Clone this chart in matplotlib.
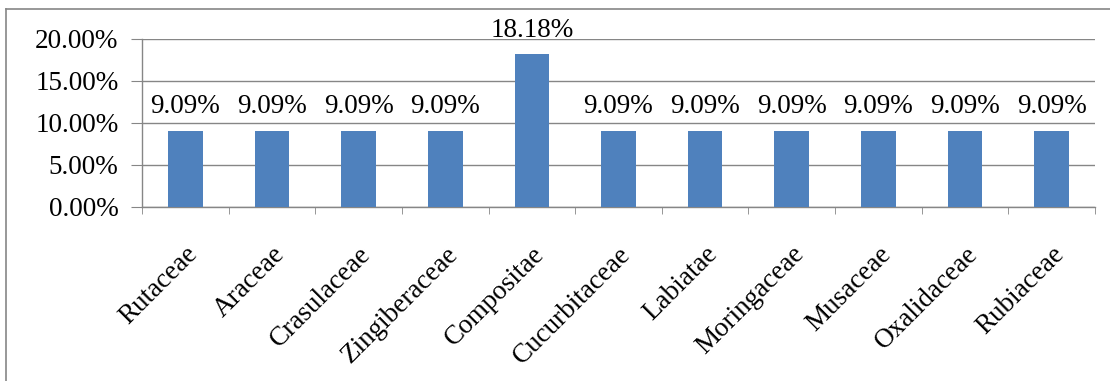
import matplotlib
matplotlib.use("Agg")
import matplotlib.pyplot as plt
from matplotlib.ticker import FuncFormatter, FixedLocator
from matplotlib.lines import Line2D

categories = ["Rutaceae", "Araceae", "Crasulaceae", "Zingiberaceae", "Compositae",
              "Cucurbitaceae", "Labiatae", "Moringaceae", "Musaceae", "Oxalidaceae", "Rubiaceae"]
values = [9.09, 9.09, 9.09, 9.09, 18.18, 9.09, 9.09, 9.09, 9.09, 9.09, 9.09]
yticks = [0, 5, 10, 15, 20]

plt.rcParams['font.family'] = ['Liberation Serif', 'DejaVu Serif']
W, H = 1110, 381
fig = plt.figure(figsize=(W/100, H/100), dpi=100)
ax = fig.add_axes([142/W, 1-207/H, (1095-142)/W, (207-39)/H])

gray = '#868686'
fs = 19.5
x = list(range(len(categories)))
ax.bar(x, values, width=0.4, color='#4F81BD', zorder=3)
ax.set_xlim(-0.5, len(categories)-0.5)
ax.set_ylim(0, 20)
ax.yaxis.set_major_locator(FixedLocator(yticks))
ax.yaxis.set_major_formatter(FuncFormatter(lambda v, p: f"{v:.2f}%"))
ax.grid(axis='y', color=gray, linewidth=1, zorder=0)
for s in ['top', 'right']:
    ax.spines[s].set_visible(False)
for s in ['left', 'bottom']:
    ax.spines[s].set_color(gray)
    ax.spines[s].set_linewidth(1)
ax.tick_params(axis='y', length=8, color=gray, labelsize=fs, pad=9)
ax.set_xticks([i - 0.5 for i in range(len(categories)+1)], minor=True)
ax.set_xticks(x)
ax.set_xticklabels(categories, rotation=45, ha='right', rotation_mode='anchor', fontsize=fs)
ax.tick_params(axis='x', which='major', length=0, pad=25)
ax.tick_params(axis='x', which='minor', length=5, color=gray)
for xi, v in zip(x, values):
    ax.text(xi, v + 1.4, f"{v:.2f}%", ha='center', va='bottom', fontsize=fs, clip_on=False)

fig.add_artist(Line2D([6/W, 1], [1-9/H, 1-9/H], color=gray, linewidth=1.2, transform=fig.transFigure))
fig.add_artist(Line2D([6/W, 6/W], [0, 1-9/H], color=gray, linewidth=1.2, transform=fig.transFigure))

fig.savefig("out.png", dpi=100)
